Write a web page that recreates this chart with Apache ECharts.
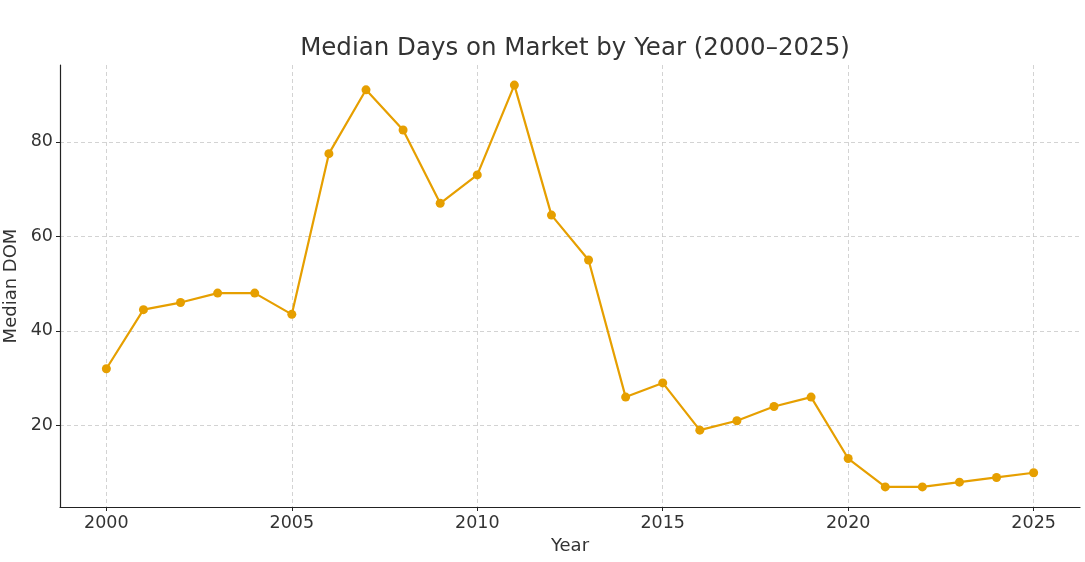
<!DOCTYPE html>
<html>
<head>
<meta charset="utf-8">
<script src="https://cdn.jsdelivr.net/npm/echarts@6/dist/echarts.min.js"></script>
<style>html,body{margin:0;padding:0;background:#fff}#c{width:1085px;height:562px}</style>
</head>
<body>
<div id="c"></div>
<script>
const years = [2000,2001,2002,2003,2004,2005,2006,2007,2008,2009,2010,2011,2012,2013,2014,2015,2016,2017,2018,2019,2020,2021,2022,2023,2024,2025];
const medianDOM = [32,44.5,46,48,48,43.5,77.5,91,82.5,67,73,92,64.5,55,26,29,19,21,24,26,13,7,7,8,9,10];
const xTicks = [2000,2005,2010,2015,2020,2025];
const yTicks = [20,40,60,80];

const FONT = 'DejaVu Sans';
const chart = echarts.init(document.getElementById('c'), null, {renderer:'canvas'});
const gridLine = {show:true, lineStyle:{color:'#c8c8c8', type:[4,3], width:0.8}};
chart.setOption({
  animation:false,
  title:{text:'Median Days on Market by Year (2000–2025)', left:570, top:31, textAlign:'center',
    textStyle:{fontFamily:FONT, fontSize:24.5, fontWeight:'normal', color:'#333333'}},
  grid:{left:60, right:5, top:65, bottom:55, containLabel:false, outerBoundsMode:'none'},
  xAxis:{type:'value', min:1998.75, max:2026.25,
    name:'Year', nameLocation:'middle', nameGap:30,
    nameTextStyle:{fontFamily:FONT, fontSize:18, color:'#333333'},
    axisLine:{show:true, onZero:false, lineStyle:{color:'#222222', width:1.2}},
    axisTick:{show:true, inside:false, length:4, customValues:xTicks, lineStyle:{color:'#222222', width:1}},
    axisLabel:{customValues:xTicks, formatter:v=>String(v), fontFamily:FONT, fontSize:17.5, color:'#333333', margin:7},
    splitLine:gridLine},
  yAxis:{type:'value', min:2.75, max:96.25,
    name:'Median DOM', nameLocation:'middle', nameGap:32,
    nameTextStyle:{fontFamily:FONT, fontSize:18, color:'#333333'},
    axisLine:{show:true, onZero:false, lineStyle:{color:'#222222', width:1.2}},
    axisTick:{show:true, inside:false, length:4, customValues:yTicks, lineStyle:{color:'#222222', width:1}},
    axisLabel:{customValues:yTicks, formatter:v=>String(v), fontFamily:FONT, fontSize:17.5, color:'#333333', margin:7},
    splitLine:gridLine},
  series:[{type:'line', data:years.map((y,i)=>[y, medianDOM[i]]),
    symbol:'circle', symbolSize:9, showSymbol:true,
    lineStyle:{color:'#E69F00', width:2.2}, itemStyle:{color:'#E69F00'}}]
});
</script>
</body>
</html>
